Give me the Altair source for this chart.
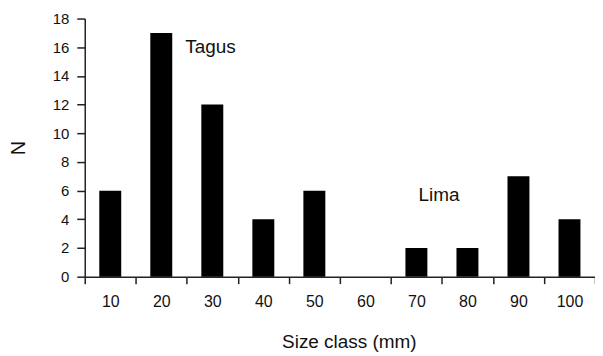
import altair as alt
import pandas as pd

size_class = ["10", "20", "30", "40", "50", "60", "70", "80", "90", "100"]
counts = [6, 17, 12, 4, 6, 0, 2, 2, 7, 4]

y_ticks = [0, 2, 4, 6, 8, 10, 12, 14, 16, 18]

label_text = ["Tagus", "Lima"]
label_class = ["20", "70"]
label_y = [16.0, 5.7]

df = pd.DataFrame({"cls": size_class, "n": counts})
lab = pd.DataFrame({"t": label_text, "cls": label_class, "y": label_y})

FONT = "Liberation Sans"

x_axis = alt.Axis(title="Size class (mm)", labelAngle=0, tickBand="extent",
                  labelFontSize=16, labelPadding=10, tickSize=7,
                  titleFontSize=19, titleFontWeight="normal", titlePadding=23,
                  titleX=265, labelColor="#111", titleColor="#111",
                  domainColor="#222", tickColor="#222", domainWidth=1.5, tickWidth=1.5,
                  labelFont=FONT, titleFont=FONT)
y_axis = alt.Axis(title="N", values=y_ticks, grid=False,
                  labelOverlap=False, labelFontSize=15, labelPadding=8, tickSize=8,
                  titleFontSize=20, titleFontWeight="normal", titlePadding=24,
                  labelColor="#111", titleColor="#111",
                  domainColor="#222", tickColor="#222", domainWidth=1.5, tickWidth=1.5,
                  labelFont=FONT, titleFont=FONT)

xscale = alt.Scale(paddingInner=0, paddingOuter=0)
yscale = alt.Scale(domain=[0, 18], nice=False)

bars = alt.Chart(df).mark_bar(color="black", width=alt.RelativeBandSize(0.43)).encode(
    x=alt.X("cls:N", sort=size_class, scale=xscale, axis=x_axis),
    y=alt.Y("n:Q", scale=yscale, axis=y_axis),
)


def annot(i, dx):
    return alt.Chart(lab.iloc[[i]]).mark_text(
        align="left", baseline="middle", fontSize=19, font=FONT, color="#111", dx=dx
    ).encode(
        x=alt.X("cls:N", sort=size_class, scale=xscale, axis=x_axis),
        y=alt.Y("y:Q", scale=yscale, axis=y_axis),
        text="t:N",
    )


chart = (bars + annot(0, 24) + annot(1, 2)).properties(
    width=512, height=259,
    autosize=alt.AutoSizeParams(type="none"),
    padding={"left": 77, "top": 10, "right": 0, "bottom": 78},
).configure_view(stroke=None)

chart.save("out.html", embed_options={"renderer": "svg", "actions": False})
